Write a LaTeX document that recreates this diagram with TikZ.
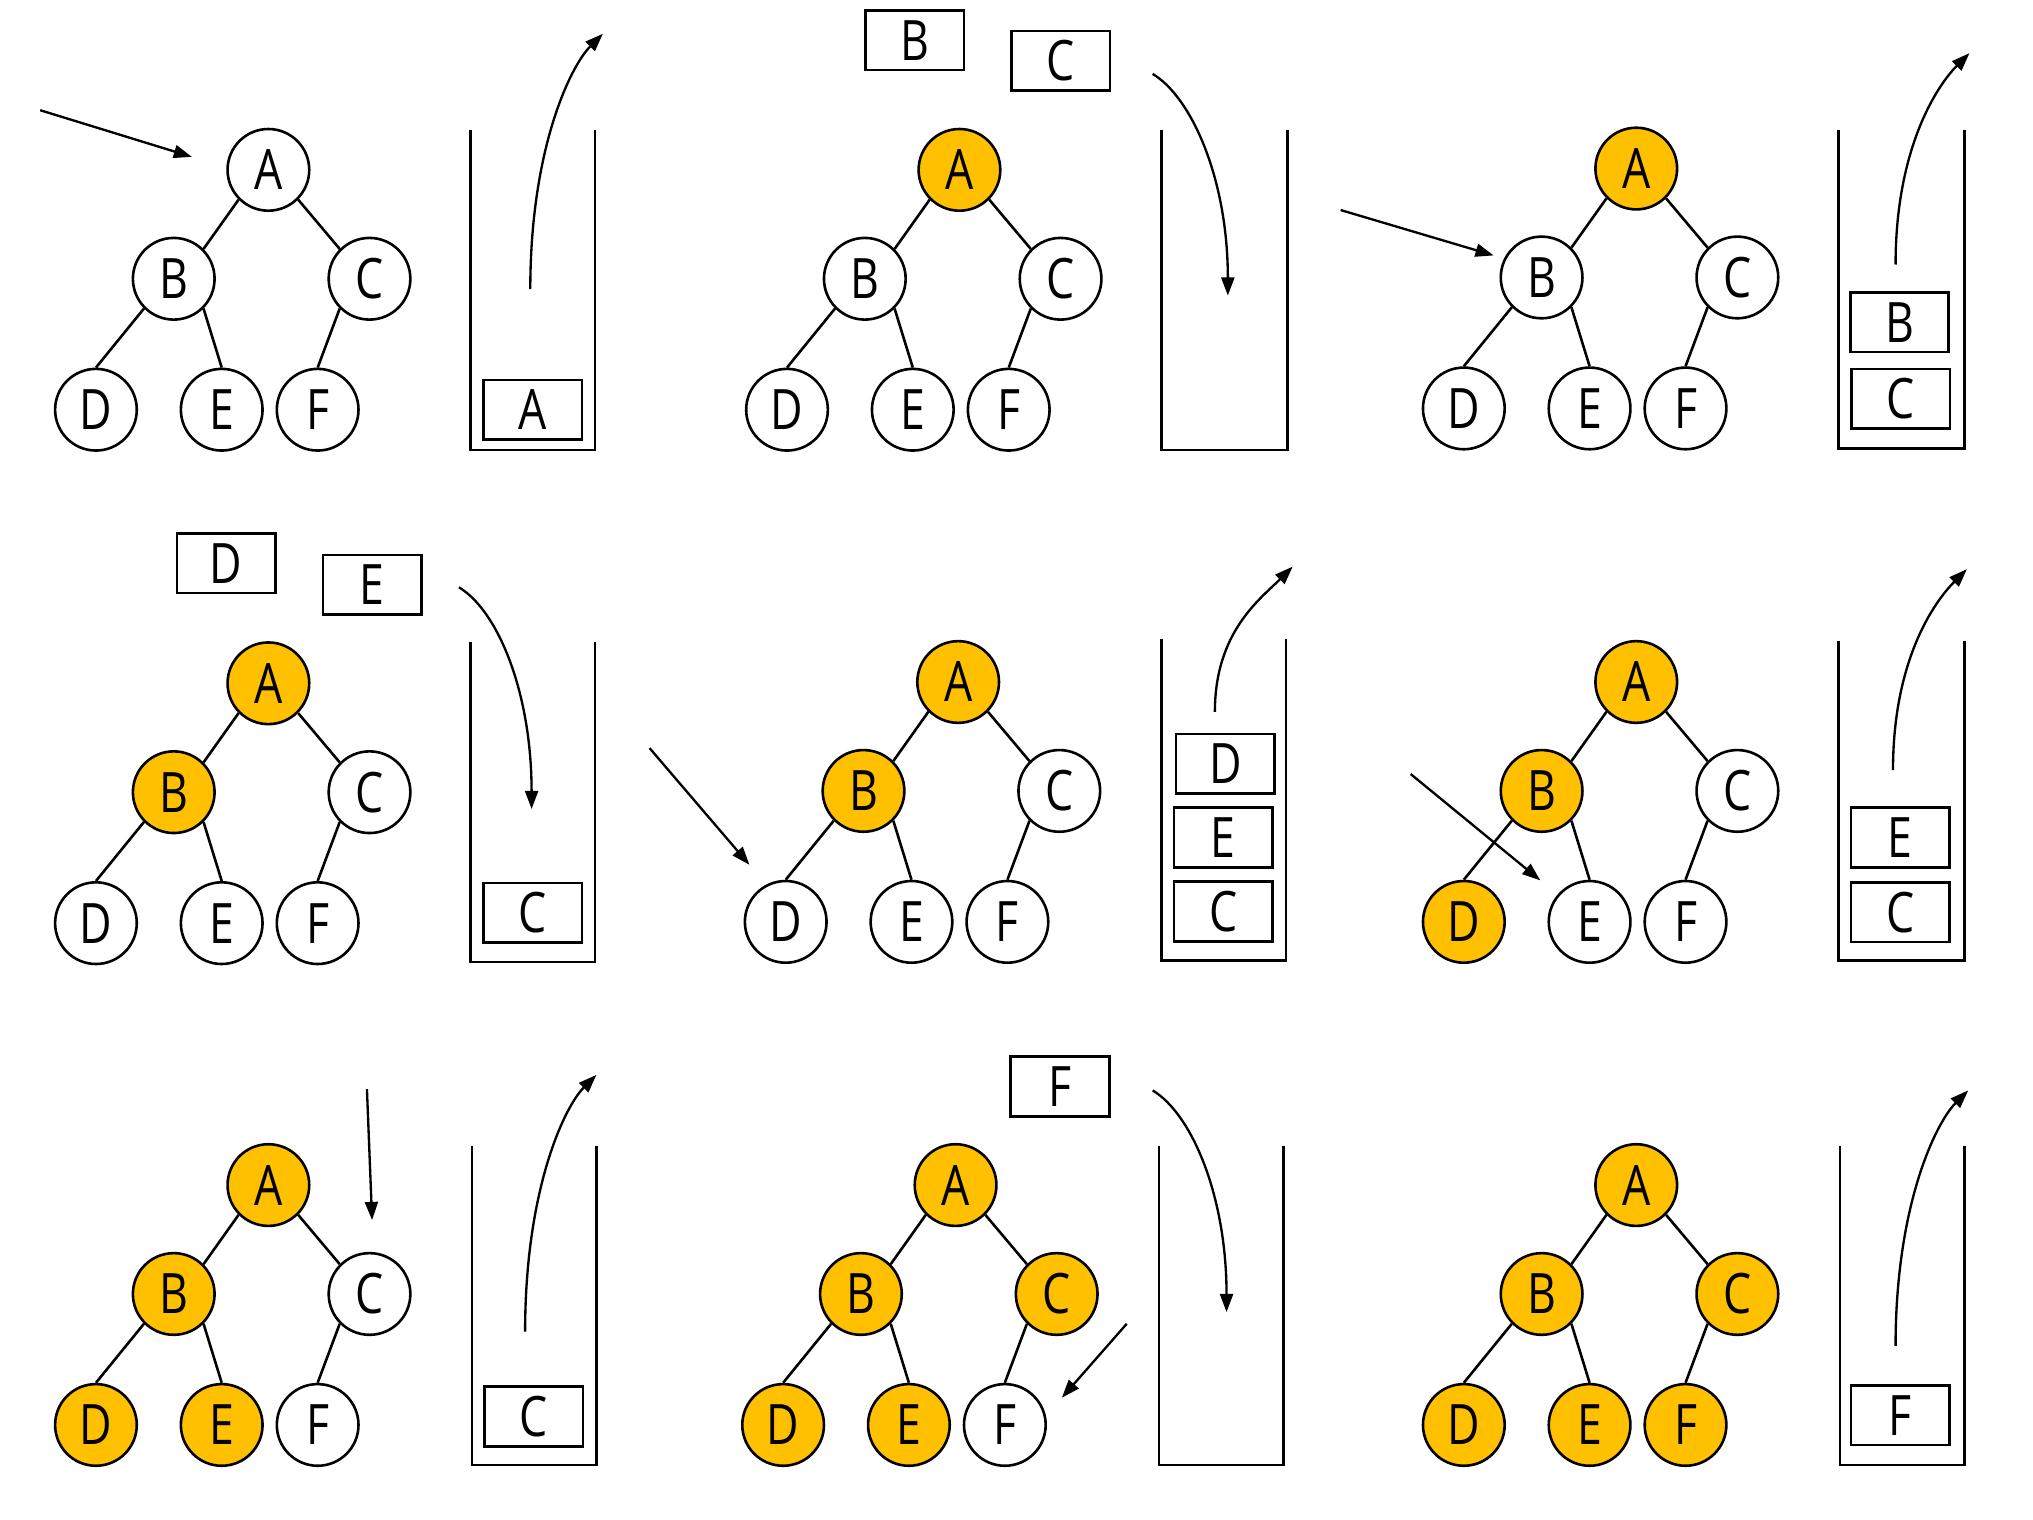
\documentclass[tikz,border=0pt]{standalone}
\usepackage{fontspec}
\setmainfont[FakeStretch=0.8]{Open Sans}
\usetikzlibrary{arrows.meta}
\definecolor{gold}{HTML}{FFC000}
\tikzset{
  tnode/.style={circle,draw,line width=2pt,minimum size=63pt,inner sep=0pt,fill=white,font=\fontsize{43}{48}\selectfont},
  seen/.style={fill=gold},
  sbox/.style={rectangle,draw,line width=2pt,minimum width=76pt,minimum height=46pt,inner sep=0pt,font=\fontsize{43}{48}\selectfont},
  edge/.style={line width=2pt},
  cup/.style={line width=2pt},
  ptr/.style={line width=1.8pt,-{Triangle[length=14pt,width=10pt]}},
}
\newcommand\drawtree[9]{%
  \node[tnode,#4] (#1A) at (#2,#3) {A};
  \node[tnode,#5] (#1B) at (#2-73,#3+84) {B};
  \node[tnode,#6] (#1C) at (#2+78,#3+84) {C};
  \node[tnode,#7] (#1D) at (#2-133,#3+185) {D};
  \node[tnode,#8] (#1E) at (#2-36,#3+185) {E};
  \node[tnode,#9] (#1F) at (#2+38,#3+185) {F};
  \draw[edge] (#1A.south west) -- (#1B.north east);
  \draw[edge] (#1A.south east) -- (#1C.north west);
  \draw[edge] (#1B.south west) -- (#1D.north);
  \draw[edge] (#1B.south east) -- (#1E.north);
  \draw[edge] (#1C.south west) -- (#1F.north);
}
\newcommand\stackcup[4]{%
  \draw[cup] (#1,#2) -- (#1,#4) -- (#3,#4) -- (#3,#2);
}
\newcommand\upcurve[5]{% name, sx, sy, ex, ey
  \coordinate (#1s) at (#2,#3);
  \coordinate (#1e) at (#4,#5);
  \draw[ptr] (#1s) .. controls (#2,#3-0.55*#3+0.55*#5) and (#4-25,#5+25) .. (#1e);
}
\newcommand\downcurve[5]{% name, sx, sy, ex, ey
  \coordinate (#1s) at (#2,#3);
  \coordinate (#1e) at (#4,#5);
  \draw[ptr] (#1s) .. controls (#2+30,#3+18) and (#4,#5-90) .. (#1e);
}
\begin{document}
\begin{tikzpicture}[x=1pt,y=-1pt]
\useasboundingbox (0,0) rectangle (1568,1172);

% ---------- Row 1 ----------
% Panel 1
\drawtree{a}{207}{131}{}{}{}{}{}{}
\coordinate (aps) at (31,85);
\coordinate (ape) at (148,121);
\draw[ptr] (aps) -- (ape);
\stackcup{363}{100}{459}{347}
\node[sbox] (asA) at (411,316) {A};
\upcurve{acv}{409}{223}{465}{26}

% Panel 2
\node[sbox] (bfB) at (705.5,31) {B};
\node[sbox] (bfC) at (818,47) {C};
\drawtree{b}{740}{131}{seen}{}{}{}{}{}
\stackcup{896}{100}{993}{347}
\downcurve{bcv}{889}{57}{947}{228}

% Panel 3
\drawtree{c}{1262}{130}{seen}{}{}{}{}{}
\coordinate (cps) at (1034,162);
\coordinate (cpe) at (1152,197);
\draw[ptr] (cps) -- (cpe);
\stackcup{1418}{100}{1515}{346}
\node[sbox] (csB) at (1465,248.5) {B};
\node[sbox] (csC) at (1466,307.5) {C};
\upcurve{ccv}{1462}{204}{1519}{41}

% ---------- Row 2 ----------
% Panel 4
\node[sbox] (dfD) at (174.5,434.5) {D};
\node[sbox] (dfE) at (287,451) {E};
\drawtree{d}{207}{527}{seen}{seen}{}{}{}{}
\stackcup{363}{495}{459}{742}
\node[sbox] (dsC) at (411,704) {C};
\downcurve{dcv}{354}{453}{410}{624}

% Panel 5
\drawtree{e}{739}{526}{seen}{seen}{}{}{}{}
\coordinate (eps) at (501,577);
\coordinate (epe) at (578,667);
\draw[ptr] (eps) -- (epe);
\stackcup{896}{493}{992}{741}
\node[sbox] (esD) at (945,589) {D};
\node[sbox] (esE) at (943.5,646) {E};
\node[sbox] (esC) at (943.5,703) {C};
\upcurve{ecv}{937}{549}{997}{437}

% Panel 6
\drawtree{f}{1262}{526}{seen}{seen}{}{seen}{}{}
\coordinate (fps) at (1088,597);
\coordinate (fpe) at (1188,679);
\draw[ptr] (fps) -- (fpe);
\stackcup{1418}{494}{1515}{741}
\node[sbox] (fsE) at (1465.5,646) {E};
\node[sbox] (fsC) at (1465.5,703.5) {C};
\upcurve{fcv}{1460}{594}{1517}{439}

% ---------- Row 3 ----------
% Panel 7
\drawtree{g}{207}{914}{seen}{seen}{}{seen}{seen}{}
\coordinate (gps) at (283,840);
\coordinate (gpe) at (287,941);
\draw[ptr] (gps) -- (gpe);
\stackcup{364}{884}{460}{1130}
\node[sbox] (gsC) at (411.5,1092.5) {C};
\upcurve{gcv}{405}{1027}{460}{829}

% Panel 8
\node[sbox] (hfF) at (817.5,838) {F};
\drawtree{h}{737}{914}{seen}{seen}{seen}{seen}{seen}{}
\coordinate (hps) at (869,1021);
\coordinate (hpe) at (819,1078);
\draw[ptr] (hps) -- (hpe);
\stackcup{894}{884}{990}{1130}
\downcurve{hcv}{889}{841}{946}{1012}

% Panel 9
\drawtree{i}{1262}{914}{seen}{seen}{seen}{seen}{seen}{seen}
\stackcup{1419}{884}{1515}{1130}
\node[sbox] (isF) at (1465.5,1091.5) {F};
\upcurve{icv}{1462}{1038}{1518}{841}
\end{tikzpicture}
\end{document}
